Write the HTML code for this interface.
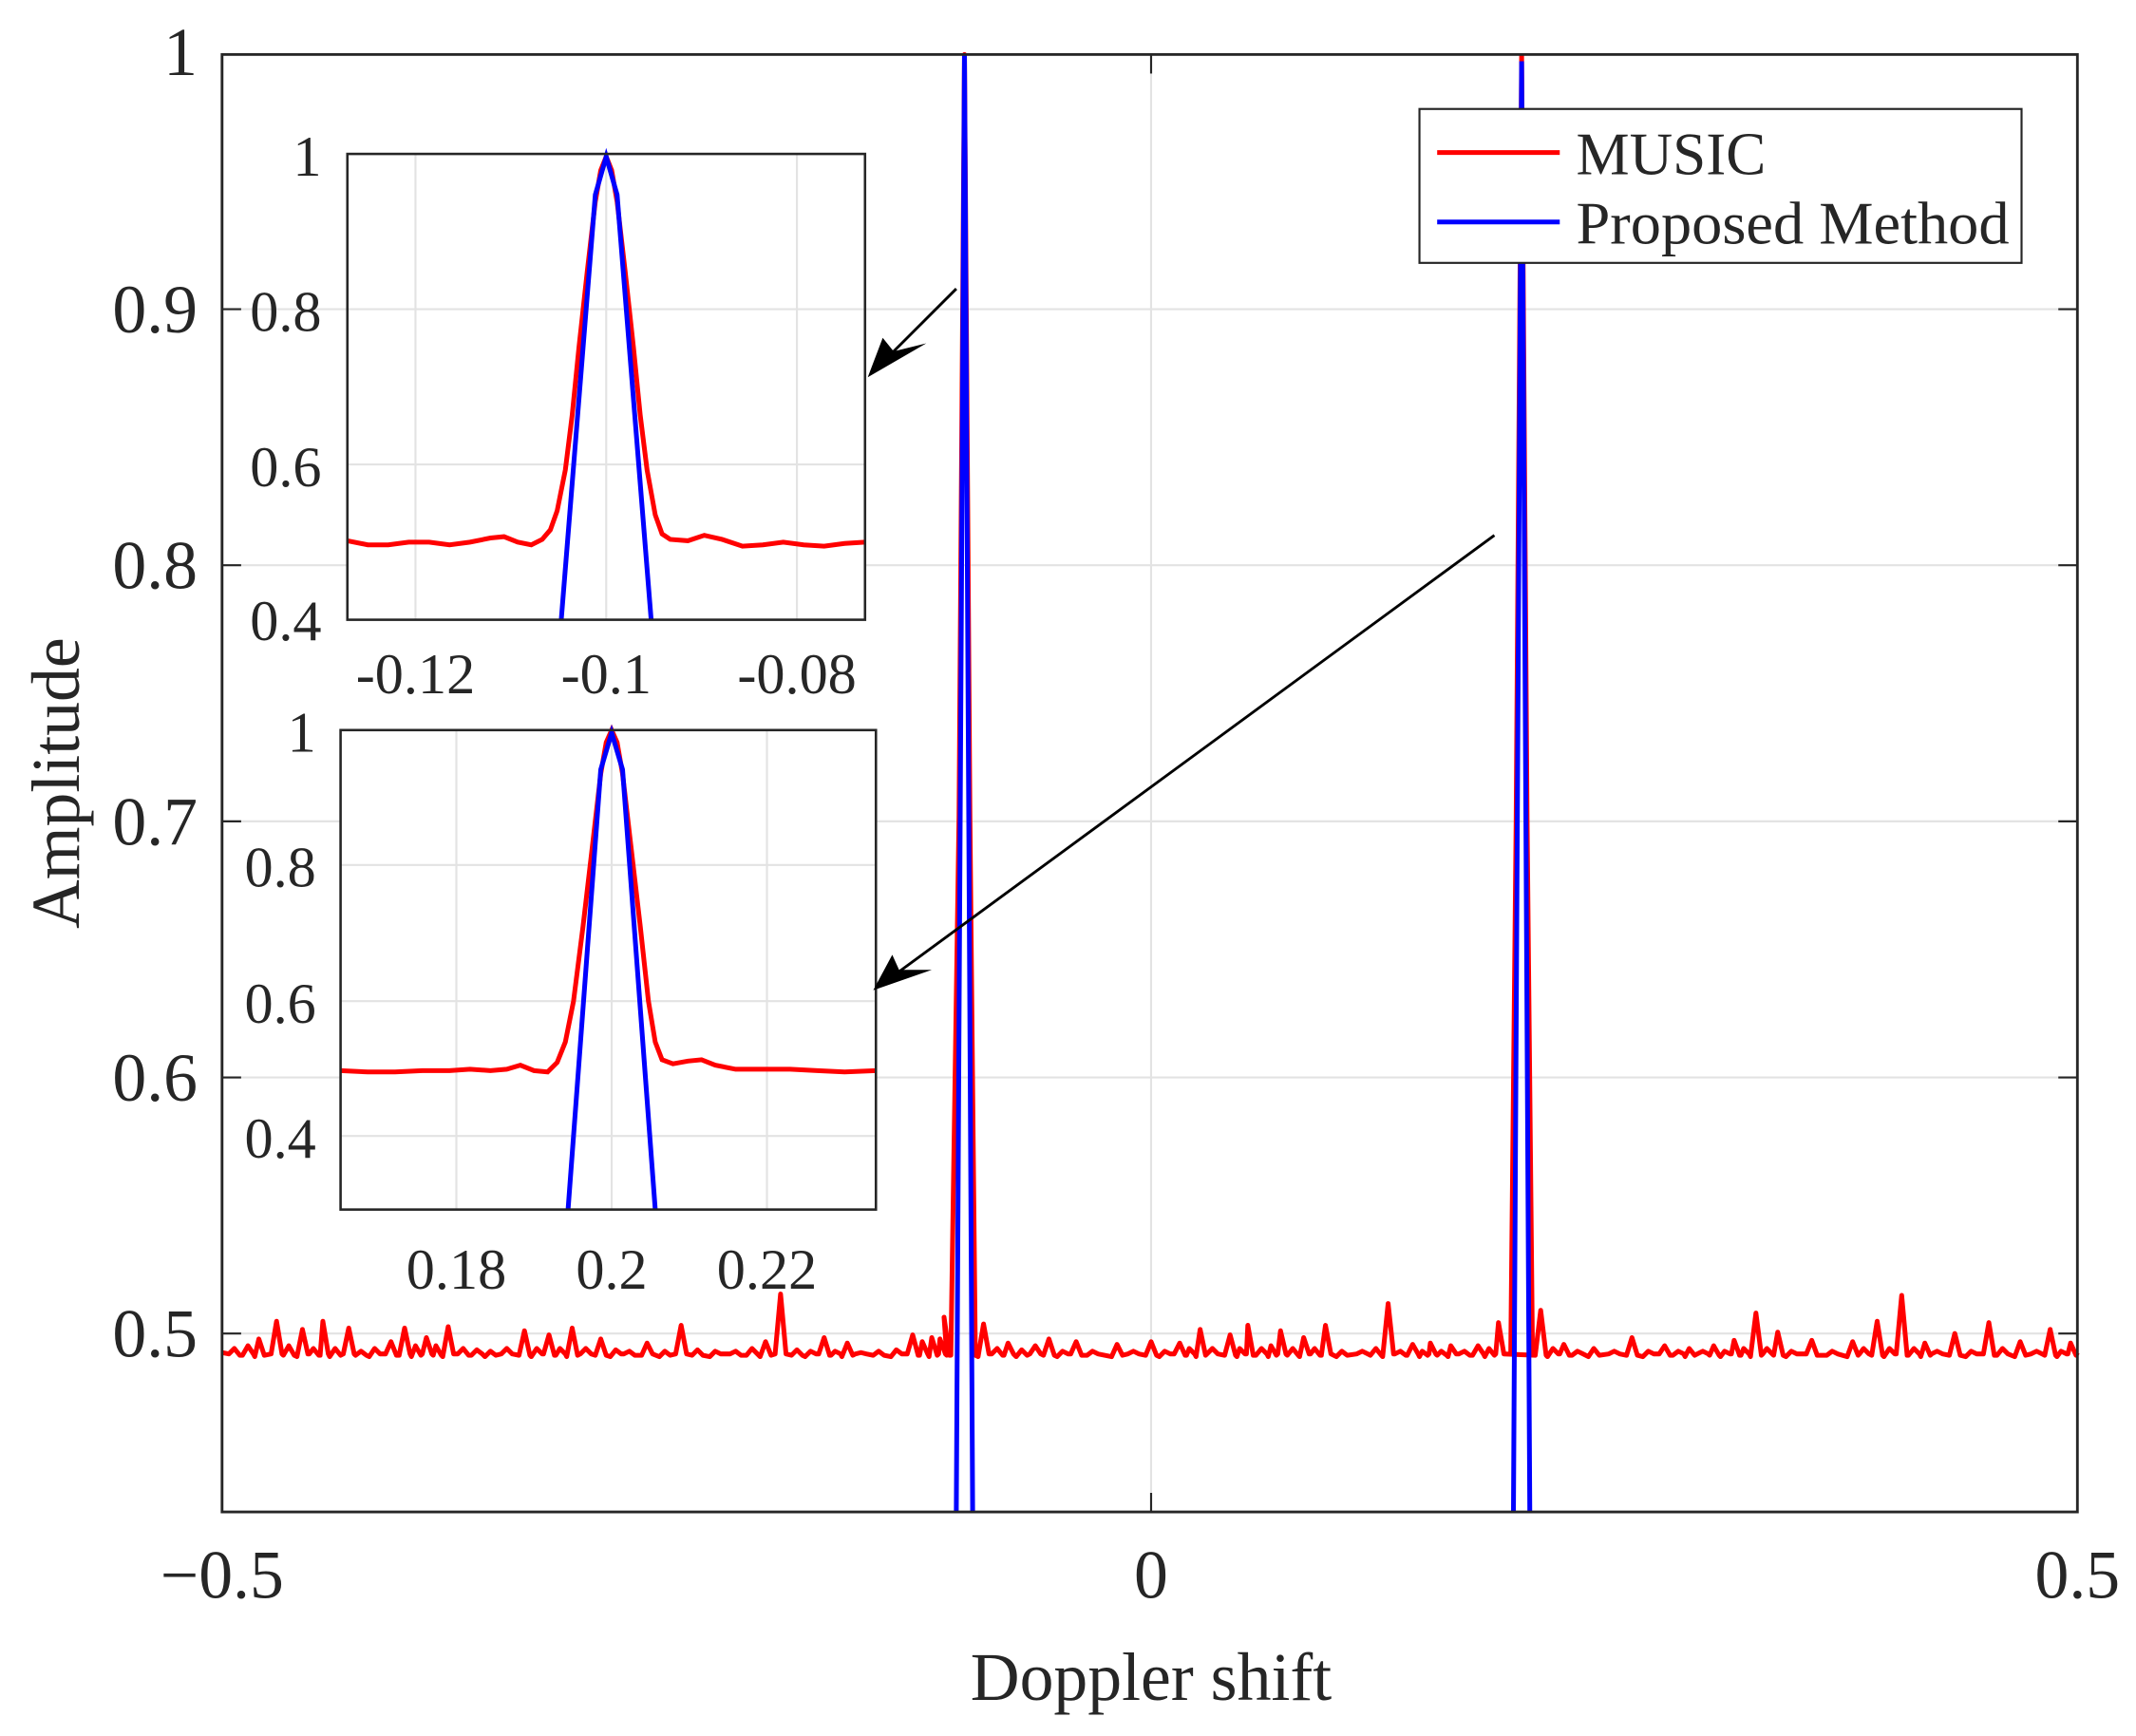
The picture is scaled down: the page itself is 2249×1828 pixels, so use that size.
<!DOCTYPE html>
<html><head><meta charset="utf-8"><style>
html,body{margin:0;padding:0;background:#fff}
svg{display:block}
text{font-family:"Liberation Serif",serif;fill:#262626}
</style></head><body>
<svg width="2249" height="1828" viewBox="0 0 1568 1274.5" xmlns="http://www.w3.org/2000/svg">
<rect x="0" y="0" width="1568" height="1275" fill="#fff"/>
<g stroke="#e3e3e3" stroke-width="1.5">
<line x1="163" y1="227" x2="1525" y2="227"/><line x1="163" y1="415" x2="1525" y2="415"/>
<line x1="163" y1="603" x2="1525" y2="603"/><line x1="163" y1="791" x2="1525" y2="791"/>
<line x1="163" y1="979" x2="1525" y2="979"/><line x1="845" y1="40" x2="845" y2="1110"/>
</g>
<g stroke="#262626" stroke-width="1.5">
<line x1="163" y1="227" x2="177" y2="227"/><line x1="163" y1="415" x2="177" y2="415"/><line x1="163" y1="603" x2="177" y2="603"/><line x1="163" y1="791" x2="177" y2="791"/><line x1="163" y1="979" x2="177" y2="979"/>
<line x1="1525" y1="227" x2="1511" y2="227"/><line x1="1525" y1="415" x2="1511" y2="415"/><line x1="1525" y1="603" x2="1511" y2="603"/><line x1="1525" y1="791" x2="1511" y2="791"/><line x1="1525" y1="979" x2="1511" y2="979"/>
<line x1="845" y1="1110" x2="845" y2="1096"/><line x1="845" y1="40" x2="845" y2="54"/>
</g>
<path id="noise" fill="none" stroke="#ff0000" stroke-width="3.5" stroke-linejoin="round" d=""/>
<polyline fill="none" stroke="#ff0000" stroke-width="3.5" points="1109,995 1113,600 1117,40 1121,600 1125,995"/>
<polyline fill="none" stroke="#0000ff" stroke-width="3.5" points="702,1110 708,40 714,1110"/>
<polyline fill="none" stroke="#0000ff" stroke-width="3.5" points="1111,1110 1117,45 1123,1110"/>
<rect x="163" y="40" width="1362" height="1070" fill="none" stroke="#262626" stroke-width="2"/>
<g font-size="50" text-anchor="end">
<text x="145" y="55">1</text><text x="145" y="244">0.9</text><text x="145" y="432">0.8</text>
<text x="145" y="620">0.7</text><text x="145" y="808">0.6</text><text x="145" y="996">0.5</text>
</g>
<g font-size="50" text-anchor="middle">
<text x="163" y="1173">−0.5</text><text x="845" y="1173">0</text><text x="1525" y="1173">0.5</text>
<text x="845" y="1248">Doppler shift</text>
<text transform="translate(58,575) rotate(-90)">Amplitude</text>
</g>
<rect x="1042" y="80" width="442" height="113" fill="#fff" stroke="#262626" stroke-width="1.5"/>
<line x1="1055" y1="112" x2="1145" y2="112" stroke="#ff0000" stroke-width="3.5"/>
<line x1="1055" y1="163" x2="1145" y2="163" stroke="#0000ff" stroke-width="3.5"/>
<text x="1157" y="128" font-size="44">MUSIC</text>
<text x="1157" y="179" font-size="44" textLength="318" lengthAdjust="spacingAndGlyphs">Proposed Method</text>
<rect x="255" y="113" width="380" height="342" fill="#fff"/>
<g stroke="#e3e3e3" stroke-width="1.5">
<line x1="305" y1="113" x2="305" y2="455"/><line x1="445" y1="113" x2="445" y2="455"/><line x1="585" y1="113" x2="585" y2="455"/>
<line x1="255" y1="227" x2="635" y2="227"/><line x1="255" y1="341" x2="635" y2="341"/>
</g>
<polyline fill="none" stroke="#ff0000" stroke-width="3.5" points="255,397 270,400 285,400 300,398 315,398 330,400 345,398 360,395 370,394 380,398 390,400 398,396 404,389 409,375 415,345 420,305 425,255 431,200 437,148 441,125 445,115 449,125 453,148 459,200 465,255 470,305 475,345 481,378 486,392 492,396 505,397 517,393 530,396 545,401 560,400 575,398 590,400 605,401 620,399 635,398"/>
<polyline fill="none" stroke="#0000ff" stroke-width="3.5" points="412,455 437,143 445,115 453,143 478,455"/>
<rect x="255" y="113" width="380" height="342" fill="none" stroke="#262626" stroke-width="1.8"/>
<g font-size="42">
<text x="236" y="129" text-anchor="end">1</text><text x="236" y="243" text-anchor="end">0.8</text>
<text x="236" y="357" text-anchor="end">0.6</text><text x="236" y="470" text-anchor="end">0.4</text>
<text x="305" y="509" text-anchor="middle">-0.12</text><text x="445" y="509" text-anchor="middle">-0.1</text><text x="585" y="509" text-anchor="middle">-0.08</text>
</g>
<rect x="250" y="536" width="393" height="352" fill="#fff"/>
<g stroke="#e3e3e3" stroke-width="1.5">
<line x1="335" y1="536" x2="335" y2="888"/><line x1="449" y1="536" x2="449" y2="888"/><line x1="563" y1="536" x2="563" y2="888"/>
<line x1="250" y1="635" x2="643" y2="635"/><line x1="250" y1="735" x2="643" y2="735"/><line x1="250" y1="834" x2="643" y2="834"/>
</g>
<polyline fill="none" stroke="#ff0000" stroke-width="3.5" points="250,786 270,787 290,787 310,786 330,786 345,785 360,786 372,785 382,782 392,786 402,787 409,780 415,765 421,735 428,680 435,620 441,568 445,545 449,536 453,545 457,568 463,620 470,680 476,735 481,765 486,778 494,781 505,779 515,778 525,782 540,785 560,785 580,785 600,786 620,787 643,786"/>
<polyline fill="none" stroke="#0000ff" stroke-width="3.5" points="417,888 441,565 449,538 457,565 481,888"/>
<rect x="250" y="536" width="393" height="352" fill="none" stroke="#262626" stroke-width="1.8"/>
<g font-size="42">
<text x="232" y="552" text-anchor="end">1</text><text x="232" y="651" text-anchor="end">0.8</text>
<text x="232" y="751" text-anchor="end">0.6</text><text x="232" y="850" text-anchor="end">0.4</text>
<text x="335" y="946" text-anchor="middle">0.18</text><text x="449" y="946" text-anchor="middle">0.2</text><text x="563" y="946" text-anchor="middle">0.22</text>
</g>
<line x1="702" y1="212" x2="650" y2="264" stroke="#000" stroke-width="2"/>
<polygon points="637,277 648,248 656,258 680,252" fill="#000"/>
<line x1="1097" y1="393" x2="655" y2="717" stroke="#000" stroke-width="2"/>
<polygon points="641,727 655,701 660,712 684,712" fill="#000"/>
</svg>
<script>
var pk=[[172,990],[182,988],[190,983],[203,970],[212,988],[222,976],[230,990],[237,970],[246,990],[256,975],[265,992],[275,990],[287,985],[297,975],[305,988],[313,982],[320,988],[329,974],[340,990],[350,991],[360,992],[372,990],[385,977],[394,990],[403,980],[411,990],[420,975],[430,990],[441,983],[452,991],[462,992],[475,986],[488,992],[500,973],[512,991],[525,992],[540,992],[552,990],[562,985],[573,950],[585,991],[595,992],[605,982],[613,992],[622,986],[632,993],[645,992],[658,991],[670,980],[677,985],[684,982],[690,983],[693,967],[722,972],[732,990],[740,986],[750,991],[760,988],[770,983],[780,992],[790,985],[802,992],[820,987],[832,992],[845,985],[855,992],[866,986],[873,990],[881,976],[890,990],[903,980],[910,990],[916,973],[926,990],[933,988],[940,977],[949,990],[957,982],[965,990],[973,973],[985,992],[1000,992],[1010,990],[1019,957],[1028,992],[1037,987],[1044,992],[1050,986],[1058,992],[1065,988],[1075,992],[1085,988],[1093,990],[1100,971],[1131,962],[1140,990],[1148,987],[1158,992],[1170,990],[1185,992],[1198,982],[1210,992],[1222,988],[1232,992],[1240,990],[1250,992],[1258,988],[1266,992],[1273,984],[1280,990],[1289,964],[1297,990],[1305,978],[1315,992],[1330,984],[1345,992],[1360,985],[1368,990],[1378,970],[1387,990],[1396,951],[1405,990],[1413,986],[1422,992],[1435,979],[1447,992],[1460,971],[1470,990],[1483,985],[1495,992],[1505,976],[1513,992],[1520,986]];
var d="M163,993 ",last=163;
for(var i=0;i<pk.length;i++){var x=pk[i][0],y=pk[i][1];
if(x>=700&&last<700){d+="L698,995 L704,600 L708,40 L712,600 L716,995 ";last=716;}
var a=Math.max(last+1,x-4);d+="L"+a+","+(994+(i%3))+" L"+x+","+y+" L"+(x+4)+","+(995-(i%2))+" ";last=x+4;}
d+="L1525,993";
document.getElementById("noise").setAttribute("d",d);
</script>
</body></html>
